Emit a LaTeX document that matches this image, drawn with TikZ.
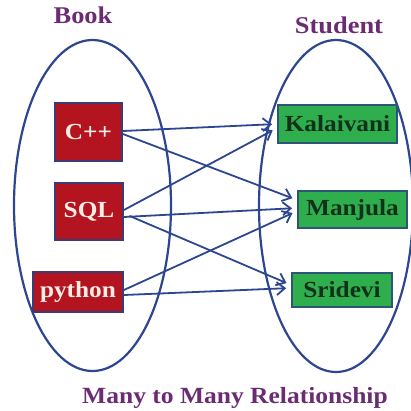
\documentclass[tikz,border=0pt]{standalone}
\usepackage{fontspec}
\setmainfont[FakeStretch=1.1]{Liberation Serif}
\usetikzlibrary{arrows.meta}

\definecolor{setline}{HTML}{2C4690}
\definecolor{bookred}{HTML}{B3141F}
\definecolor{bookedge}{HTML}{3A3C78}
\definecolor{studgreen}{HTML}{2FAE4E}
\definecolor{studedge}{HTML}{2B5677}
\definecolor{booktext}{HTML}{FBEDE4}
\definecolor{studtext}{HTML}{13301B}
\definecolor{titlepurple}{HTML}{6B2C74}

\tikzset{
  setoval/.style={draw=setline, line width=2.2pt},
  boxlabel/.style={font=\rmfamily\bfseries\fontsize{23}{23}\selectfont, inner sep=0pt},
  bookbox/.style={boxlabel, draw=bookedge, line width=1.8pt, fill=bookred, text=booktext},
  studbox/.style={boxlabel, draw=studedge, line width=1.8pt, fill=studgreen, text=studtext},
  settitle/.style={text=titlepurple, font=\rmfamily\bfseries\fontsize{24}{24}\selectfont,
    anchor=base, inner sep=0pt},
  link/.style={draw=setline, line width=1.8pt,
    -{Straight Barb[length=8pt,width=13pt]}, shorten >=5pt},
}

\begin{document}
\begin{tikzpicture}[x=1pt, y=-1pt]
\useasboundingbox (0,0) rectangle (411,410);

% the two sets
\draw[setoval] (92.5,205.5) ellipse [x radius=78.5, y radius=165.5];
\draw[setoval] (336,206) ellipse [x radius=77, y radius=166];

% set titles
\node[settitle] (booktitle) at (83,23) {Book};
\node[settitle] (studtitle) at (339,33) {Student};
\node[settitle, font=\rmfamily\bfseries\fontsize{23.2}{23.2}\selectfont] (relation) at (235,403) {Many to Many Relationship};

% books
\node[bookbox, minimum width=67pt, minimum height=58pt] (cpp) at (88.5,132) {C++};
\node[bookbox, minimum width=68pt, minimum height=57pt] (sql) at (89,211.5) {SQL};
\node[bookbox, minimum width=90pt, minimum height=40pt] (py) at (78,292) {python};

% students
\node[studbox, minimum width=119pt, minimum height=38pt] (kal) at (337.5,124) {Kalaivani};
\node[studbox, minimum width=109pt, minimum height=37pt] (man) at (352.5,209.5) {Manjula};
\node[studbox, minimum width=100pt, minimum height=34pt] (sri) at (342,290) {Sridevi};

% who reads what
\draw[link] ([yshift=1pt]cpp.east) -- (kal.west);
\draw[link] ([yshift=-2pt]cpp.east) -- ([yshift=9.5pt]man.west);
\draw[link] ([yshift=1.5pt]sql.east) -- ([yshift=-4pt]kal.west);
\draw[link] ([yshift=-5.5pt]sql.east) -- ([yshift=1.5pt]man.west);
\draw[link, shorten <=6pt] ([yshift=-2pt]sql.east) -- ([yshift=5pt]sri.west);
\draw[link] ([yshift=2pt]py.east) -- ([yshift=-1.5pt]man.west);
\draw[link] ([yshift=-3pt]py.east) -- ([yshift=2pt]sri.west);
\end{tikzpicture}
\end{document}
